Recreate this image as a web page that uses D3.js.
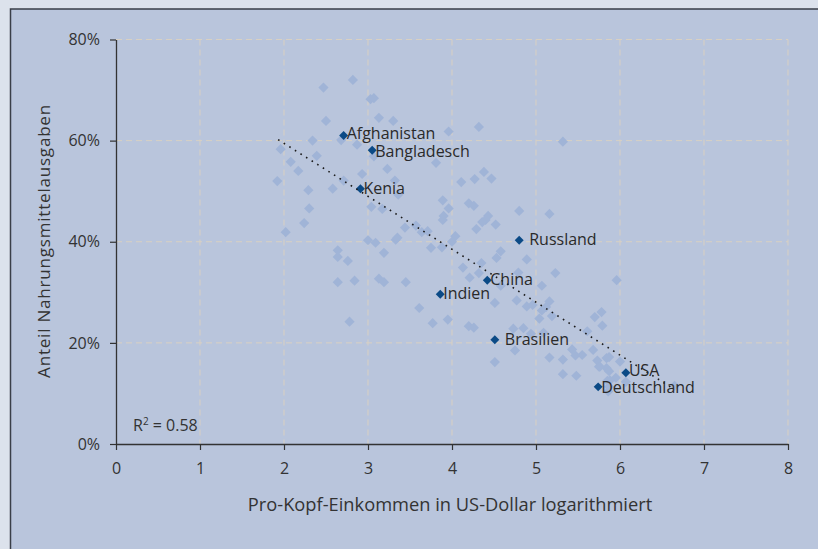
<!DOCTYPE html>
<html>
<head>
<meta charset="utf-8">
<script src="https://cdn.jsdelivr.net/npm/d3@7"></script>
<style>
  body { margin: 0; background: #dce2ec; }
  svg { display: block; }
</style>
</head>
<body>
<div id="chart"></div>
<script>
// all countries: [log income, food share %]
const allX = [2.47, 2.82, 3.03, 3.07, 2.50, 3.13, 3.30, 3.96, 4.32, 5.32, 2.34, 2.68, 2.87, 1.96, 2.39, 3.07, 2.08, 3.81,
  2.17, 3.23, 4.38, 2.93, 1.92, 2.71, 3.32, 4.11, 4.27, 4.47, 2.29, 2.58, 3.36, 3.89, 4.20, 4.26, 3.04, 2.30, 3.17, 3.96,
  4.80, 5.16, 3.90, 4.43, 4.40, 3.89, 4.36, 4.52, 2.24, 3.44, 3.57, 4.29, 2.02, 3.64, 3.71, 4.04, 3.33, 3.35, 3.00, 3.09,
  4.00, 3.75, 3.88, 4.58, 4.53, 2.64, 2.64, 2.76, 3.19, 4.35, 4.89, 4.13, 4.32, 4.79, 5.23, 4.21, 3.13, 3.19, 3.45, 2.64,
  2.84, 5.96, 4.58, 5.07, 4.51, 4.77, 5.16, 5.12, 4.89, 4.96, 3.61, 5.07, 5.04, 5.19, 5.78, 5.70, 5.79, 2.78, 3.77, 3.95,
  4.20, 4.26, 4.73, 4.85, 4.94, 5.09, 5.61, 4.75, 5.43, 5.68, 5.47, 5.55, 5.16, 5.32, 4.51, 5.73, 5.84, 5.87, 6.00, 5.75,
  5.84, 5.87, 5.32, 5.48, 5.95, 5.85, 6.07, 5.86, 5.87, 5.76, 5.88, 6.65];
const allY = [70.5, 72.0, 68.2, 68.4, 63.9, 64.5, 63.9, 61.8, 62.7, 59.8, 60.0, 60.1, 59.2, 58.3, 57.0, 56.9, 55.8, 55.6,
  54.0, 54.4, 53.8, 53.4, 52.0, 52.1, 52.1, 51.8, 52.4, 52.5, 50.2, 50.5, 49.3, 48.2, 47.6, 47.1, 46.9, 46.6, 46.5, 46.6,
  46.1, 45.5, 45.1, 45.1, 44.3, 44.3, 43.9, 43.4, 43.7, 42.8, 43.2, 42.5, 41.9, 41.9, 42.1, 41.1, 40.4, 40.8, 40.3, 39.8,
  40.0, 38.8, 38.9, 38.1, 36.8, 38.3, 37.0, 36.2, 37.8, 35.8, 36.5, 34.9, 33.8, 33.9, 33.8, 32.9, 32.7, 32.0, 32.0, 32.0,
  32.3, 32.4, 31.3, 31.3, 27.9, 28.4, 28.2, 27.1, 27.2, 27.5, 26.9, 26.4, 24.8, 25.3, 26.1, 25.1, 23.4, 24.2, 23.9, 24.6,
  23.3, 23.0, 22.8, 22.9, 21.8, 22.0, 22.3, 18.5, 18.7, 18.6, 17.5, 17.6, 17.1, 16.7, 16.2, 16.5, 17.0, 17.2, 16.3, 15.3,
  15.0, 14.4, 13.8, 13.5, 13.1, 12.5, 12.3, 10.4, 11.3, 15.3, 12.6, 11.5];

// labelled countries
const namedCountries = ["Afghanistan", "Bangladesch", "Kenia", "Russland", "China", "Indien", "Brasilien", "USA", "Deutschland"];
const namedX = [2.71, 3.05, 2.91, 4.80, 4.42, 3.86, 4.51, 6.07, 5.74];
const namedY = [61.0, 58.1, 50.5, 40.3, 32.4, 29.6, 20.6, 14.1, 11.3];

// linear trend
const trendIntercept = 80.4;
const trendSlope = -10.47;
const trendRange = [1.93, 6.65];
const rSquared = "0.58";

const xTicks = [0, 1, 2, 3, 4, 5, 6, 7, 8];
const yTicks = [0, 20, 40, 60, 80];

const width = 818, height = 549;
const margin = { top: 39.5, right: 30, bottom: 105, left: 116 };
const innerW = width - margin.left - margin.right;
const innerH = height - margin.top - margin.bottom;
const font = "'Open Sans', sans-serif";
const textColor = "#333";

const svg = d3.select("#chart").append("svg")
    .attr("width", width)
    .attr("height", height);

// panel
svg.append("rect")
    .attr("x", 10.5).attr("y", 9)
    .attr("width", width).attr("height", height)
    .attr("fill", "#b9c5dc")
    .attr("stroke", "#3a3f48")
    .attr("stroke-width", 1.5);

const g = svg.append("g")
    .attr("transform", `translate(${margin.left}, ${margin.top})`);

const x = d3.scaleLinear().domain([0, 8]).range([0, innerW]);
const y = d3.scaleLinear().domain([0, 80]).range([innerH, 0]);

// grid
g.selectAll(".hgrid")
    .data(yTicks.filter(d => d > 0))
    .enter().append("line")
    .attr("x1", 0).attr("x2", innerW)
    .attr("y1", d => y(d)).attr("y2", d => y(d))
    .attr("stroke", "#d9d0c2")
    .attr("stroke-dasharray", "6,4");

g.selectAll(".vgrid")
    .data(xTicks.filter(d => d > 0))
    .enter().append("line")
    .attr("x1", d => x(d)).attr("x2", d => x(d))
    .attr("y1", 0).attr("y2", innerH)
    .attr("stroke", "#d9d0c2")
    .attr("stroke-dasharray", "6,4");

// axes
const xAxis = g.append("g")
    .attr("transform", `translate(0, ${innerH})`)
    .call(d3.axisBottom(x).tickValues(xTicks).tickSize(6).tickPadding(13).tickSizeOuter(0));
const yAxis = g.append("g")
    .call(d3.axisLeft(y).tickValues(yTicks).tickSize(6).tickPadding(10).tickSizeOuter(0)
        .tickFormat(d => d + "%"));

[xAxis, yAxis].forEach(a => {
    a.select(".domain").attr("stroke", "#333").attr("stroke-width", 1.3);
    a.selectAll(".tick line").attr("stroke", "#333").attr("stroke-width", 1.2);
    a.selectAll("text")
        .style("font-family", font)
        .style("font-size", "16px")
        .style("fill", textColor);
});

// points
const diamond = d3.symbol().type(d3.symbolSquare);
g.selectAll(".pt")
    .data(allX.map((v, i) => [v, allY[i]]))
    .enter().append("path")
    .attr("d", diamond.size(52))
    .attr("transform", d => `translate(${x(d[0])}, ${y(d[1])}) rotate(45)`)
    .attr("fill", "#a0b4d7");

// highlighted countries
const named = namedCountries.map((n, i) => ({ name: n, x: namedX[i], y: namedY[i] }));
g.selectAll(".named")
    .data(named)
    .enter().append("path")
    .attr("d", diamond.size(40))
    .attr("transform", d => `translate(${x(d.x)}, ${y(d.y)}) rotate(45)`)
    .attr("fill", "#0b4a86");

// trend line
g.append("line")
    .attr("x1", x(trendRange[0])).attr("y1", y(trendIntercept + trendSlope * trendRange[0]))
    .attr("x2", x(trendRange[1])).attr("y2", y(trendIntercept + trendSlope * trendRange[1]))
    .attr("stroke", "#1a1a1a")
    .attr("stroke-width", 1.6)
    .attr("stroke-dasharray", "1.6,5");

// small nudges keep the tight label pairs apart
const nudge = { Afghanistan: -1.5, Bangladesch: 1.5, USA: -1.5, Deutschland: 1.5 };
g.selectAll(".lbl")
    .data(named)
    .enter().append("text")
    .attr("x", d => x(d.x) + (["Russland", "Brasilien"].includes(d.name) ? 10 : 3))
    .attr("y", d => y(d.y) + 5 + (nudge[d.name] || 0))
    .style("font-family", font)
    .style("font-size", "16px")
    .style("fill", "#2a2a2a")
    .text(d => d.name);

// R squared
const r2 = g.append("text")
    .attr("x", 17).attr("y", innerH - 13)
    .style("font-family", font)
    .style("font-size", "16px")
    .style("fill", textColor);
r2.append("tspan").text("R");
r2.append("tspan").attr("dy", -6).style("font-size", "10px").text("2");
r2.append("tspan").attr("dy", 6).text(" = " + rSquared);

// axis titles
svg.append("text")
    .attr("x", 450)
    .attr("y", 511)
    .attr("text-anchor", "middle")
    .style("font-family", font)
    .style("font-size", "18.3px")
    .style("fill", textColor)
    .text("Pro-Kopf-Einkommen in US-Dollar logarithmiert");

svg.append("text")
    .attr("transform", `translate(50, 241) rotate(-90)`)
    .attr("text-anchor", "middle")
    .style("font-family", font)
    .style("font-size", "17px")
    .style("letter-spacing", "0.8px")
    .style("fill", textColor)
    .text("Anteil Nahrungsmittelausgaben");
</script>
</body>
</html>
